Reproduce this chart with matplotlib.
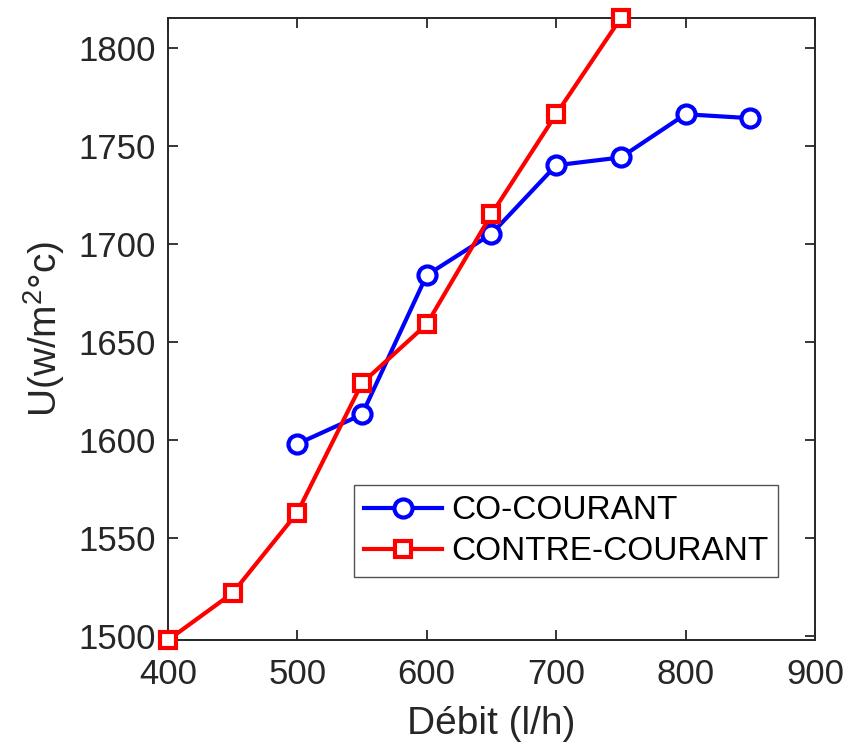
import numpy as np
import matplotlib.pyplot as plt

plt.rcParams['font.family'] = ['Liberation Sans', 'DejaVu Sans']
plt.rcParams['mathtext.fontset'] = 'custom'
plt.rcParams['mathtext.rm'] = 'Liberation Sans'
plt.rcParams['mathtext.it'] = 'Liberation Sans'

# Data
debit_co = [500, 550, 600, 650, 700, 750, 800, 850]
u_co = [1598, 1613, 1684, 1705, 1740, 1744, 1766, 1764]

debit_contre = [400, 450, 500, 550, 600, 650, 700, 750]
u_contre = [1498, 1522, 1563, 1629, 1659, 1715, 1766, 1815]

fig = plt.figure(figsize=(8.48, 7.54), dpi=100)
ax = fig.add_axes([0.198, 0.151, 0.763, 0.825])

ax.plot(debit_co, u_co, '-o', color='#0000ff', lw=3, ms=13,
        mew=3, mfc='white', label='CO-COURANT', clip_on=False, zorder=3)
ax.plot(debit_contre, u_contre, '-s', color='#ff0000', lw=3, ms=12,
        mew=3, mfc='white', label='CONTRE-COURANT', clip_on=False, zorder=3)

ax.set_xlim(400, 900)
ax.set_ylim(min(u_contre), max(u_contre))
ax.set_xticks(np.arange(400, 901, 100))
ax.set_yticks(np.arange(1500, 1801, 50))

ax.tick_params(direction='in', length=7, width=1.3, labelsize=25,
               colors='#262626', top=True, right=True)
ax.tick_params(axis='x', pad=13)
ax.tick_params(axis='y', pad=9)
for s in ax.spines.values():
    s.set_linewidth(1.4)
    s.set_color('#262626')

ax.set_xlabel('Débit (l/h)', fontsize=28, color='#262626', labelpad=11)
ax.set_ylabel(r'U(w/m$^\mathrm{2}$°c)', fontsize=28, color='#262626', labelpad=8)

leg = ax.legend(loc='lower right', bbox_to_anchor=(0.943, 0.101), fontsize=24,
                frameon=True, fancybox=False, edgecolor='#262626',
                handlelength=2.35, borderpad=0.3, labelspacing=0.3,
                handletextpad=0.25, borderaxespad=0)
leg.get_frame().set_linewidth(1.0)
for t in leg.get_texts():
    t.set_color('black')

fig.savefig('out.png', dpi=100)
